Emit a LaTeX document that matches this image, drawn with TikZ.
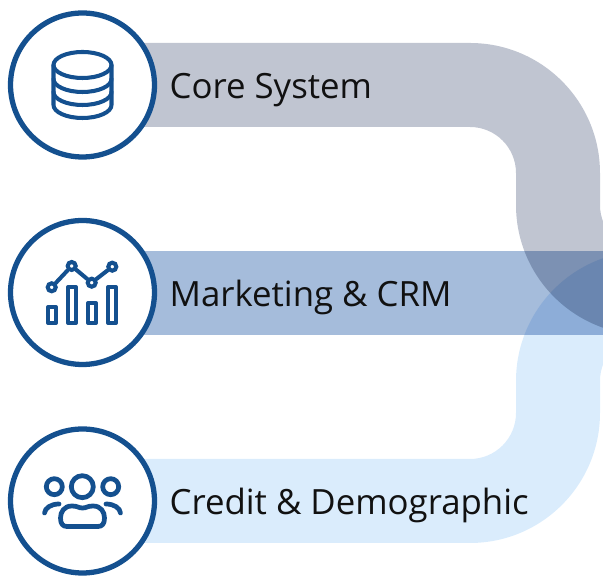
\documentclass[tikz,border=0pt]{standalone}
\usepackage{fontspec}
\setmainfont{Open Sans}
\usetikzlibrary{positioning}

\definecolor{ringblue}{HTML}{14508F}
\definecolor{coregray}{HTML}{C0C5D1}
\definecolor{crmblue}{HTML}{A5BCDB}
\definecolor{creditblue}{HTML}{DAECFC}
\definecolor{labelink}{HTML}{111111}

\tikzset{
  ring/.style={circle, draw=ringblue, line width=3pt, fill=white, minimum size=2.88cm, inner sep=0pt},
  icon/.style={draw=ringblue, line width=2.3pt, line join=round, line cap=round},
  thickicon/.style={icon, line width=2.7pt},
  bandfill/.style={fill=#1, blend mode=multiply},
  bandlabel/.style={anchor=base west, inner sep=0pt, text=labelink, font=\fontsize{19.8}{24}\selectfont}
}

% Upper bend; the lower one is the same path mirrored
\newcommand{\bandpath}{
  (100,541) -- (470,541) arc[start angle=90, end angle=0, radius=130]
  -- (600,379) arc[start angle=180, end angle=270, radius=46]
  -- (646,249) arc[start angle=270, end angle=180, radius=130]
  -- (516,411) arc[start angle=0, end angle=90, radius=46]
  -- (100,457) -- cycle
}

\begin{document}
\begin{tikzpicture}[x=0.02cm, y=0.02cm]
\useasboundingbox (0,0) rectangle (603,584);

% Bands
\fill[bandfill=coregray] \bandpath;
\fill[bandfill=crmblue] (100,249) rectangle (646,333);
\begin{scope}[shift={(0,582)}, yscale=-1]
  \fill[bandfill=creditblue] \bandpath;
\end{scope}

% Rings
\node[ring] (core) at (82.5,499) {};
\node[ring] (crm) at (82.5,291.5) {};
\node[ring] (credit) at (82.5,83) {};

% Labels
\node[bandlabel] (corelabel) at (169.3,485) {Core System};
\node[bandlabel] (crmlabel) at (169.3,277.5) {Marketing \& CRM};
\node[bandlabel] (creditlabel) at (169.3,69.5) {Credit \& Demographic};

% Database icon
\draw[icon] (82.5,519) ellipse[x radius=29, y radius=13];
\draw[icon] (53.5,519) -- (53.5,479) arc[start angle=180, end angle=360, x radius=29, y radius=13] -- (111.5,519);
\foreach \y in {505,492} {
  \draw[icon] (53.5,\y) arc[start angle=180, end angle=360, x radius=29, y radius=13];
}

% Chart icon
\foreach \x/\t in {48/277,68/297,88/281,108/297} {
  \draw[icon] (\x,261) rectangle (\x + 8,\t);
}
\foreach \x/\y [count=\i] in {51.7/296.7,71.7/318,91.7/301.3,112.3/317.3} {
  \node[circle, draw=ringblue, line width=2.3pt, minimum size=0.16cm, inner sep=0pt] (pt\i) at (\x,\y) {};
}
\draw[icon] (pt1) -- (pt2);
\draw[icon] (pt2) -- (pt3);
\draw[icon] (pt3) -- (pt4);

% People icon
\draw[thickicon] (82.3,97.3) circle[radius=11];
\foreach \x in {54.3,110.7} {
  \draw[thickicon] (\x,97.3) circle[radius=8];
}
\draw[thickicon] (60.5,66) .. controls (60.5,72) and (64,78) .. (72,78)
  .. controls (78,78) and (78,76) .. (82.5,76)
  .. controls (87,76) and (87,78) .. (93,78)
  .. controls (101,78) and (104.5,72) .. (104.5,66)
  .. controls (104.5,60) and (102,57.5) .. (98,57.5)
  -- (67,57.5) .. controls (63,57.5) and (60.5,60) .. (60.5,66) -- cycle;
\draw[thickicon] (44.5,71) .. controls (45,76) and (51,80) .. (59,80);
\draw[thickicon] (120.5,71) .. controls (120,76) and (114,80) .. (106,80);

\end{tikzpicture}
\end{document}
